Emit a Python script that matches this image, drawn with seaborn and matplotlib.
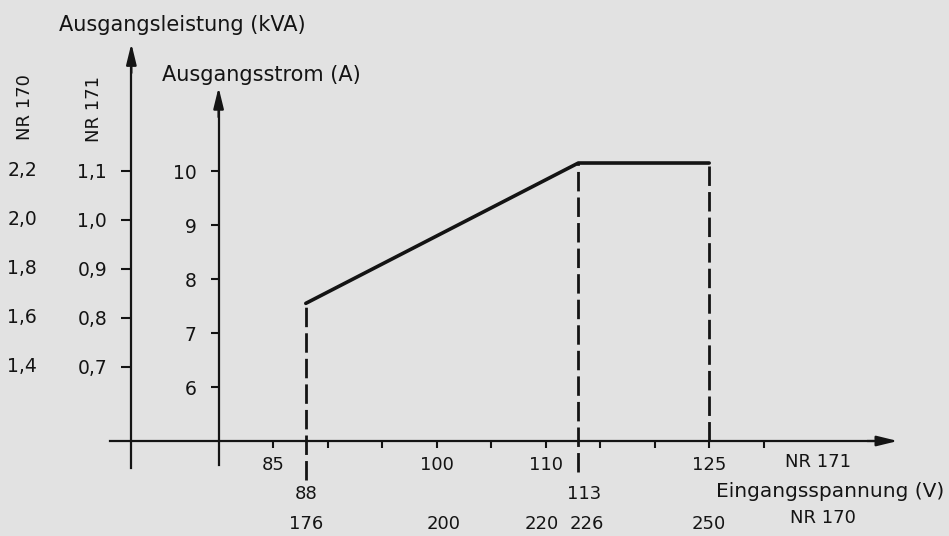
import pandas as pd
import matplotlib
matplotlib.use('Agg')
import matplotlib.pyplot as plt
from matplotlib.transforms import offset_copy
import seaborn as sns

# NR 171: input voltage (V) -> output current (A)
volts = [88, 113, 125]
amps = [7.55, 10.15, 10.15]

# NR 170 runs on twice the voltage and gives twice the power
volts_170 = [176, 200, 220, 226, 250]
kva_171 = [1.1, 1.0, 0.9, 0.8, 0.7]
kva_170 = [2.2, 2.0, 1.8, 1.6, 1.4]
amp_ticks = [6, 7, 8, 9, 10]
volt_ticks = [85, 90, 95, 100, 105, 110, 115, 120, 125, 130]
volt_labels = [85, 100, 110, 125]
volt_marks = [88, 113]

paper = '#e2e2e2'
ink = '#141414'


def de(x):
    return str(x).replace('.', ',')


sns.set_theme(style='white')
plt.rcParams['font.family'] = ['DejaVu Sans']
plt.rcParams['axes.linewidth'] = 1.6
plt.rcParams['text.color'] = ink

fig = plt.figure(figsize=(9.49, 5.36), dpi=100, facecolor=paper)
ax = fig.add_axes([0, 0, 1, 1])
ax.set_facecolor(paper)
ax.set_xlim(59.95, 147.0)
ax.set_ylim(3.24, 13.17)

df = pd.DataFrame({'volts': volts, 'amps': amps})
sns.lineplot(data=df, x='volts', y='amps', ax=ax, color=ink, lw=2.6,
             sort=False, estimator=None)
ax.set_xlabel('')
ax.set_ylabel('')

# dashed drop lines from the break points
drop_to = [4.28, 4.43, 5.0]
for v, a, lo in zip(volts, amps, drop_to):
    ax.vlines(v, lo, a, colors=ink, lw=2, linestyles=(0, (7, 2.2)))

# current axis + voltage axis
for s in ['top', 'right']:
    ax.spines[s].set_visible(False)
ax.spines['left'].set_position(('data', 80))
ax.spines['left'].set_bounds(4.55, 11.2)
ax.spines['bottom'].set_position(('data', 5))
ax.spines['bottom'].set_bounds(70, 140)
for s in ['left', 'bottom']:
    ax.spines[s].set_color(ink)

head = dict(arrowstyle='-|>,head_length=0.9,head_width=0.22', mutation_scale=14,
            color=ink, lw=1.6, shrinkA=0, shrinkB=0)
ax.annotate('', xy=(142.3, 5), xytext=(139.5, 5), arrowprops=head)
ax.annotate('', xy=(80, 11.55), xytext=(80, 11.0), arrowprops=head)

ax.set_yticks(amp_ticks, labels=[str(a) for a in amp_ticks])
ax.set_xticks(volt_ticks, labels=[str(v) if v in volt_labels else '' for v in volt_ticks])
ax.tick_params(axis='y', left=True, direction='out', length=6, width=1.5, pad=10,
               labelsize=13.5, color=ink, labelcolor=ink)
ax.tick_params(axis='x', bottom=True, direction='out', length=5, width=1.5, pad=6,
               labelsize=13, color=ink, labelcolor=ink)

# power axis (kVA) further left
ax2 = ax.twinx()
ax2.set_ylim(0.355, 1.449)
for s in ['top', 'right', 'bottom']:
    ax2.spines[s].set_visible(False)
ax2.spines['left'].set_position(('data', 72))
ax2.spines['left'].set_bounds(0.494, 1.31)
ax2.spines['left'].set_color(ink)
ax2.yaxis.tick_left()
ax2.set_yticks(kva_171, labels=[de(k) for k in kva_171])
ax2.tick_params(axis='y', left=True, right=False, direction='out', length=7, width=1.5,
                pad=10.5, labelsize=13.5, color=ink, labelcolor=ink)
ax2.annotate('', xy=(72, 1.36), xytext=(72, 1.3), arrowprops=head)

for k, k2 in zip(kva_171, kva_170):
    ax2.text(62.0, k, de(k2), ha='center', va='center', fontsize=13.5)

# text round the axes
ax.text(65.4, 12.70, 'Ausgangsleistung (kVA)', ha='left', va='center', fontsize=15)
ax.text(74.8, 11.78, 'Ausgangsstrom (A)', ha='left', va='center', fontsize=15)
ax.text(62.25, 11.19, 'NR 170', rotation=90, ha='center', va='center', fontsize=13)
ax.text(68.6, 11.15, 'NR 171', rotation=90, ha='center', va='center', fontsize=13)

# second and third label rows under the voltage axis (small nudges in points)
mark_nudge = [0, 4]
for v, dx in zip(volt_marks, mark_nudge):
    ax.text(v, 4.02, str(v), ha='center', va='center', fontsize=13,
            transform=offset_copy(ax.transData, fig=fig, x=dx, units='points'))
nudge_170 = [0, 5, -3, 6, 0]
for v, dx in zip(volts_170, nudge_170):
    ax.text(v / 2, 3.46, str(v), ha='center', va='center', fontsize=13,
            transform=offset_copy(ax.transData, fig=fig, x=dx, units='points'))
ax.text(135.0, 4.61, 'NR 171', ha='center', va='center', fontsize=13)
ax.text(146.6, 4.06, 'Eingangsspannung (V)', ha='right', va='center', fontsize=14.5)
ax.text(135.4, 3.57, 'NR 170', ha='center', va='center', fontsize=13)

fig.savefig('out.png', dpi=100, facecolor=paper)
